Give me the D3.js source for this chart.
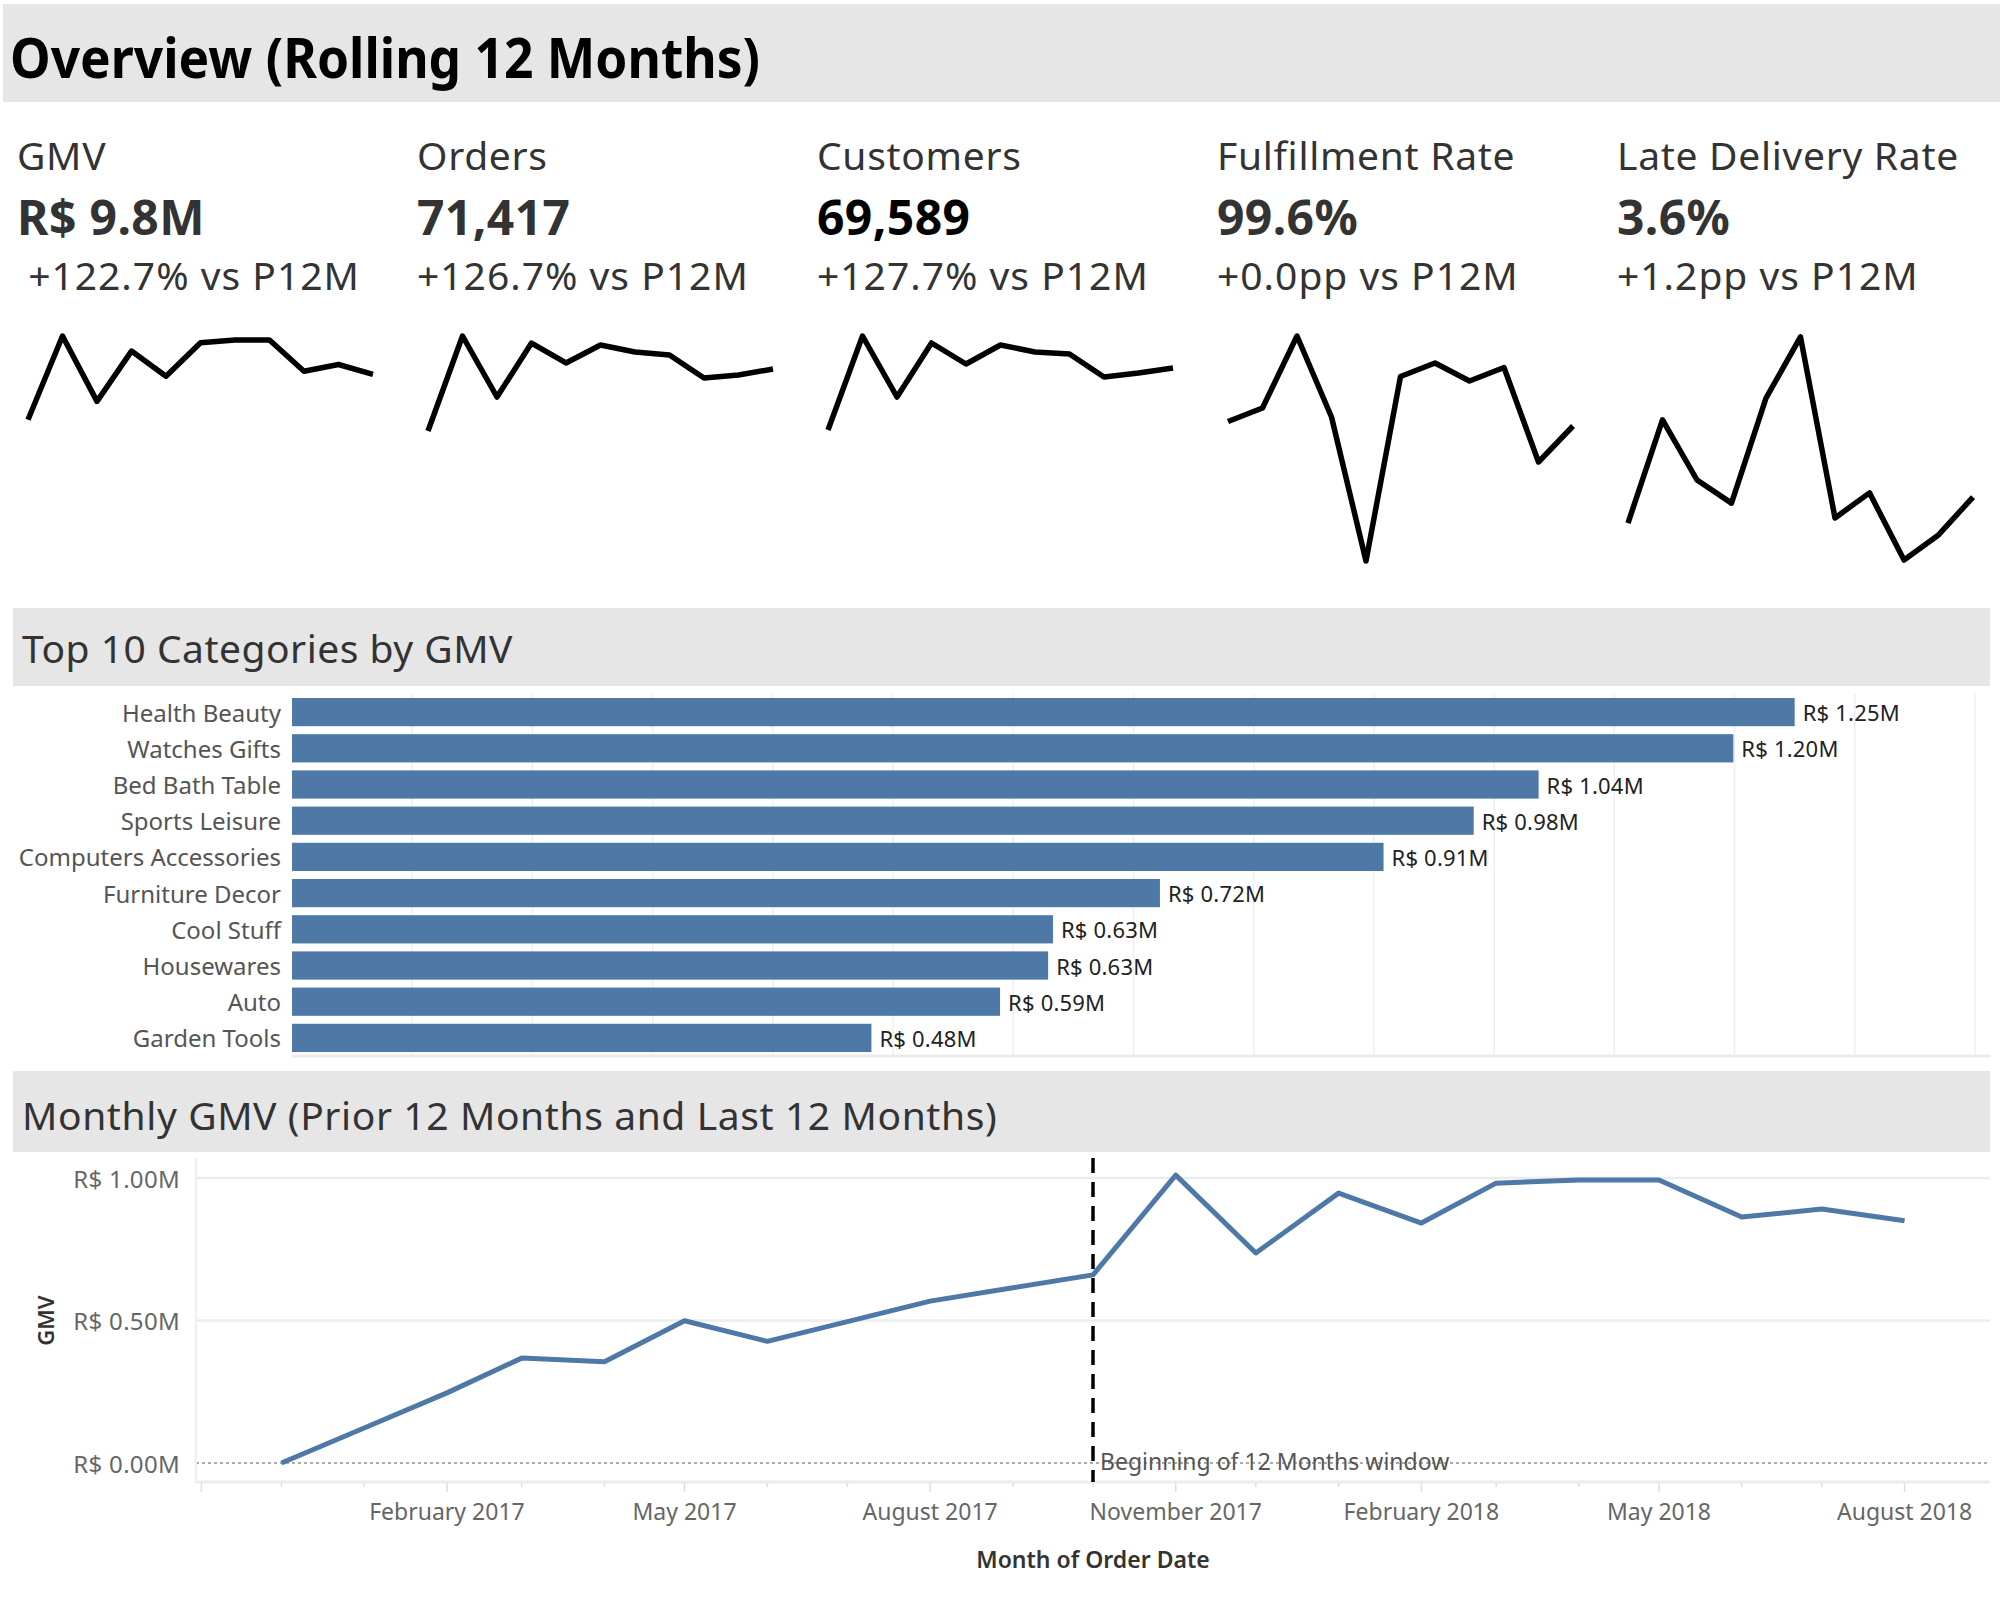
<!DOCTYPE html>
<html>
<head>
<meta charset="utf-8">
<script src="https://cdn.jsdelivr.net/npm/d3@7"></script>
<style>
  body { margin: 0; background: #fff; }
  svg { display: block; font-family: "Noto Sans", sans-serif; }
</style>
</head>
<body>
<svg id="dash" width="2000" height="1600"></svg>
<script>
// ---- data ----
var kpiNames = ["GMV", "Orders", "Customers", "Fulfillment Rate", "Late Delivery Rate"];
var kpiValues = ["R$ 9.8M", "71,417", "69,589", "99.6%", "3.6%"];
var kpiChanges = [" +122.7% vs P12M", "+126.7% vs P12M", "+127.7% vs P12M", "+0.0pp vs P12M", "+1.2pp vs P12M"];

var sparkMonths = ["2017-10", "2017-11", "2017-12", "2018-01", "2018-02", "2018-03",
                   "2018-04", "2018-05", "2018-06", "2018-07", "2018-08"];
var sparkGMV = [0.66, 1.01, 0.737, 0.947, 0.842, 0.982, 0.993, 0.993, 0.863, 0.891, 0.85];
var sparkOrders = [4629, 7544, 5672, 7329, 6716, 7268, 7053, 6961, 6255, 6347, 6531];
var sparkCustomers = [4560, 7420, 5564, 7207, 6568, 7146, 6933, 6872, 6173, 6294, 6446];
var sparkFulfillment = [99.66, 99.69, 99.85, 99.67, 99.35, 99.76, 99.79, 99.75, 99.78, 99.57, 99.65];
var sparkLate = [2.18, 5.39, 3.52, 2.80, 6.07, 7.97, 2.34, 3.12, 1.03, 1.81, 2.99];
// axis ranges of each sparkline
var sparkDomains = [[0.07, 1.01], [640, 7544], [575, 7420], [99.35, 99.85], [1.0, 8.0]];

var categories = ["Health Beauty", "Watches Gifts", "Bed Bath Table", "Sports Leisure",
                  "Computers Accessories", "Furniture Decor", "Cool Stuff", "Housewares",
                  "Auto", "Garden Tools"];
var categoryGMV = [1.25, 1.199, 1.037, 0.983, 0.908, 0.722, 0.633, 0.629, 0.589, 0.482];

var months = ["2016-12", "2017-01", "2017-02", "2017-03", "2017-04", "2017-05", "2017-06",
              "2017-07", "2017-08", "2017-09", "2017-10", "2017-11", "2017-12", "2018-01",
              "2018-02", "2018-03", "2018-04", "2018-05", "2018-06", "2018-07", "2018-08"];
var monthlyGMV = [0.0, 0.123, 0.246, 0.368, 0.355, 0.499, 0.427, 0.496, 0.568, 0.615, 0.66,
                  1.01, 0.737, 0.947, 0.842, 0.982, 0.993, 0.993, 0.863, 0.891, 0.85];
var gmvTicks = [0, 0.5, 1.0];
var windowStart = "2017-10";

var parseMonth = d3.timeParse("%Y-%m");
var blue = "#4e79a7";
var svg = d3.select("#dash");

// ---- title ----
svg.append("rect").attr("x", 3).attr("y", 4).attr("width", 1997).attr("height", 98).attr("fill", "#e6e6e6");
svg.append("text")
    .attr("x", 10).attr("y", 78)
    .attr("font-size", 56).attr("font-weight", "bold").attr("fill", "#000")
    .attr("textLength", 750).attr("lengthAdjust", "spacingAndGlyphs")
    .text("Overview (Rolling 12 Months)");

// ---- KPI tiles ----
var sparkSeries = [sparkGMV, sparkOrders, sparkCustomers, sparkFulfillment, sparkLate];

kpiNames.forEach(function(name, i) {
    var x0 = 17 + 400 * i;
    var g = svg.append("g");

    g.append("text").attr("x", x0).attr("y", 170)
        .attr("font-size", 39).attr("letter-spacing", 0.7).attr("fill", "#333").text(name);
    g.append("text").attr("x", x0).attr("y", 235)
        .attr("font-size", 48).attr("font-weight", "bold").attr("letter-spacing", 0.4)
        .attr("fill", i == 2 ? "#000" : "#333").text(kpiValues[i]);
    g.append("text").attr("x", x0).attr("y", 290)
        .attr("font-size", 39).attr("letter-spacing", 1.0).attr("fill", "#333")
        .style("white-space", "pre").text(kpiChanges[i]);

    var sx = d3.scalePoint().domain(sparkMonths).range([x0 + 11, x0 + 356]);
    var sy = d3.scaleLinear().domain(sparkDomains[i]).range([561, 336]);

    var line = d3.line()
        .x(function(d, j) { return sx(sparkMonths[j]); })
        .y(function(d) { return sy(d); });

    g.append("path")
        .datum(sparkSeries[i])
        .attr("d", line)
        .attr("fill", "none")
        .attr("stroke", "#000")
        .attr("stroke-width", 5.5)
        .attr("stroke-linejoin", "round");
});

// ---- Top 10 categories ----
svg.append("rect").attr("x", 13).attr("y", 608).attr("width", 1977).attr("height", 78).attr("fill", "#e6e6e6");
svg.append("text").attr("x", 22).attr("y", 663)
    .attr("font-size", 39).attr("letter-spacing", 0.5).attr("fill", "#333").text("Top 10 Categories by GMV");

var bx = d3.scaleLinear().domain([0, 1.4]).range([292, 1975]);
var by = d3.scaleBand().domain(categories).range([694, 1056]).paddingInner(0.22).paddingOuter(0.11);

var barG = svg.append("g");

barG.selectAll("line.grid")
    .data(d3.range(1, 15).map(function(k) { return k / 10; }))
    .enter().append("line")
        .attr("class", "grid")
        .attr("x1", function(d) { return bx(d); })
        .attr("x2", function(d) { return bx(d); })
        .attr("y1", 694).attr("y2", 1056)
        .attr("stroke", "#efefef").attr("stroke-width", 1.5);

barG.append("line")
    .attr("x1", bx(0)).attr("x2", 1990).attr("y1", 1056).attr("y2", 1056)
    .attr("stroke", "#ebebeb").attr("stroke-width", 3);

barG.selectAll("rect.bar")
    .data(categoryGMV)
    .enter().append("rect")
        .attr("class", "bar")
        .attr("x", bx(0))
        .attr("y", function(d, i) { return by(categories[i]); })
        .attr("width", function(d) { return bx(d) - bx(0); })
        .attr("height", by.bandwidth())
        .attr("fill", blue);

barG.selectAll("text.cat")
    .data(categories)
    .enter().append("text")
        .attr("class", "cat")
        .attr("x", 281)
        .attr("y", function(d) { return by(d) + by.bandwidth() / 2; })
        .attr("dominant-baseline", "central")
        .attr("text-anchor", "end")
        .attr("font-size", 24).attr("fill", "#555")
        .text(function(d) { return d; });

barG.selectAll("text.val")
    .data(categoryGMV)
    .enter().append("text")
        .attr("class", "val")
        .attr("x", function(d) { return bx(d) + 8; })
        .attr("y", function(d, i) { return by(categories[i]) + by.bandwidth() / 2; })
        .attr("dominant-baseline", "central")
        .attr("font-size", 22).attr("letter-spacing", 0.2).attr("fill", "#222")
        .text(function(d) { return "R$ " + d.toFixed(2) + "M"; });

// ---- Monthly GMV line ----
svg.append("rect").attr("x", 13).attr("y", 1071).attr("width", 1977).attr("height", 81).attr("fill", "#e6e6e6");
svg.append("text").attr("x", 22).attr("y", 1130)
    .attr("font-size", 39).attr("letter-spacing", 0.6).attr("fill", "#333")
    .text("Monthly GMV (Prior 12 Months and Last 12 Months)");

var lx = d3.scaleTime().domain([new Date(2016, 9, 30), new Date(2018, 8, 2)]).range([196, 1990]);
var ly = d3.scaleLinear().domain([0, 1]).range([1463, 1178]);
var plotTop = 1158, plotBottom = 1482;

var lineG = svg.append("g");

// gridlines
lineG.selectAll("line.hgrid")
    .data(gmvTicks.filter(function(d) { return d > 0; }))
    .enter().append("line")
        .attr("class", "hgrid")
        .attr("x1", 196).attr("x2", 1990)
        .attr("y1", function(d) { return ly(d); })
        .attr("y2", function(d) { return ly(d); })
        .attr("stroke", "#ececec").attr("stroke-width", 2.5);

// zero line
lineG.append("line")
    .attr("x1", 196).attr("x2", 1990).attr("y1", ly(0)).attr("y2", ly(0))
    .attr("stroke", "#aaa").attr("stroke-width", 2).attr("stroke-dasharray", "3,3");

// plot borders
lineG.append("line")
    .attr("x1", 196).attr("x2", 196).attr("y1", plotTop).attr("y2", plotBottom)
    .attr("stroke", "#efefef").attr("stroke-width", 2);
lineG.append("line")
    .attr("x1", 196).attr("x2", 1990).attr("y1", plotBottom).attr("y2", plotBottom)
    .attr("stroke", "#ececec").attr("stroke-width", 3);

// y labels
lineG.selectAll("text.ylab")
    .data(gmvTicks)
    .enter().append("text")
        .attr("class", "ylab")
        .attr("x", 180)
        .attr("y", function(d) { return ly(d); })
        .attr("dominant-baseline", "central")
        .attr("text-anchor", "end")
        .attr("font-size", 24).attr("letter-spacing", 0.3).attr("fill", "#666")
        .text(function(d) { return "R$ " + d.toFixed(2) + "M"; });

lineG.append("text")
    .attr("transform", "translate(45," + ly(0.5) + ") rotate(-90)")
    .attr("text-anchor", "middle").attr("dominant-baseline", "central")
    .attr("font-size", 22).attr("font-weight", 600).attr("fill", "#333")
    .text("GMV");

// x ticks
var tickMonths = d3.timeMonth.range(new Date(2016, 10, 1), new Date(2018, 8, 1));
function isMajor(d) { return d.getMonth() % 3 == 1; }

lineG.selectAll("line.xtick")
    .data(tickMonths)
    .enter().append("line")
        .attr("class", "xtick")
        .attr("x1", function(d) { return lx(d); })
        .attr("x2", function(d) { return lx(d); })
        .attr("y1", plotBottom + 1)
        .attr("y2", function(d) { return plotBottom + (isMajor(d) ? 10 : 5); })
        .attr("stroke", "#ddd").attr("stroke-width", 1.5);

lineG.selectAll("text.xlab")
    .data(tickMonths.filter(function(d) { return isMajor(d) && d >= parseMonth(months[0]); }))
    .enter().append("text")
        .attr("class", "xlab")
        .attr("x", function(d) { return lx(d); })
        .attr("y", 1520)
        .attr("text-anchor", "middle")
        .attr("font-size", 23).attr("fill", "#666")
        .text(d3.timeFormat("%B %Y"));

lineG.append("text")
    .attr("x", lx(parseMonth(windowStart))).attr("y", 1568)
    .attr("text-anchor", "middle")
    .attr("font-size", 23).attr("font-weight", 600).attr("fill", "#333")
    .text("Month of Order Date");

// GMV line
var gmvLine = d3.line()
    .x(function(d, i) { return lx(parseMonth(months[i])); })
    .y(function(d) { return ly(d); });

lineG.append("path")
    .datum(monthlyGMV)
    .attr("d", gmvLine)
    .attr("fill", "none")
    .attr("stroke", blue)
    .attr("stroke-width", 5)
    .attr("stroke-linejoin", "round");

// 12 month window marker
var wx = lx(parseMonth(windowStart));
lineG.append("line")
    .attr("x1", wx).attr("x2", wx).attr("y1", plotTop).attr("y2", plotBottom)
    .attr("stroke", "#000").attr("stroke-width", 3.5).attr("stroke-dasharray", "15,9");

lineG.append("text")
    .attr("x", wx + 7).attr("y", 1470)
    .attr("font-size", 23).attr("fill", "#555")
    .text("Beginning of 12 Months window");
</script>
</body>
</html>
